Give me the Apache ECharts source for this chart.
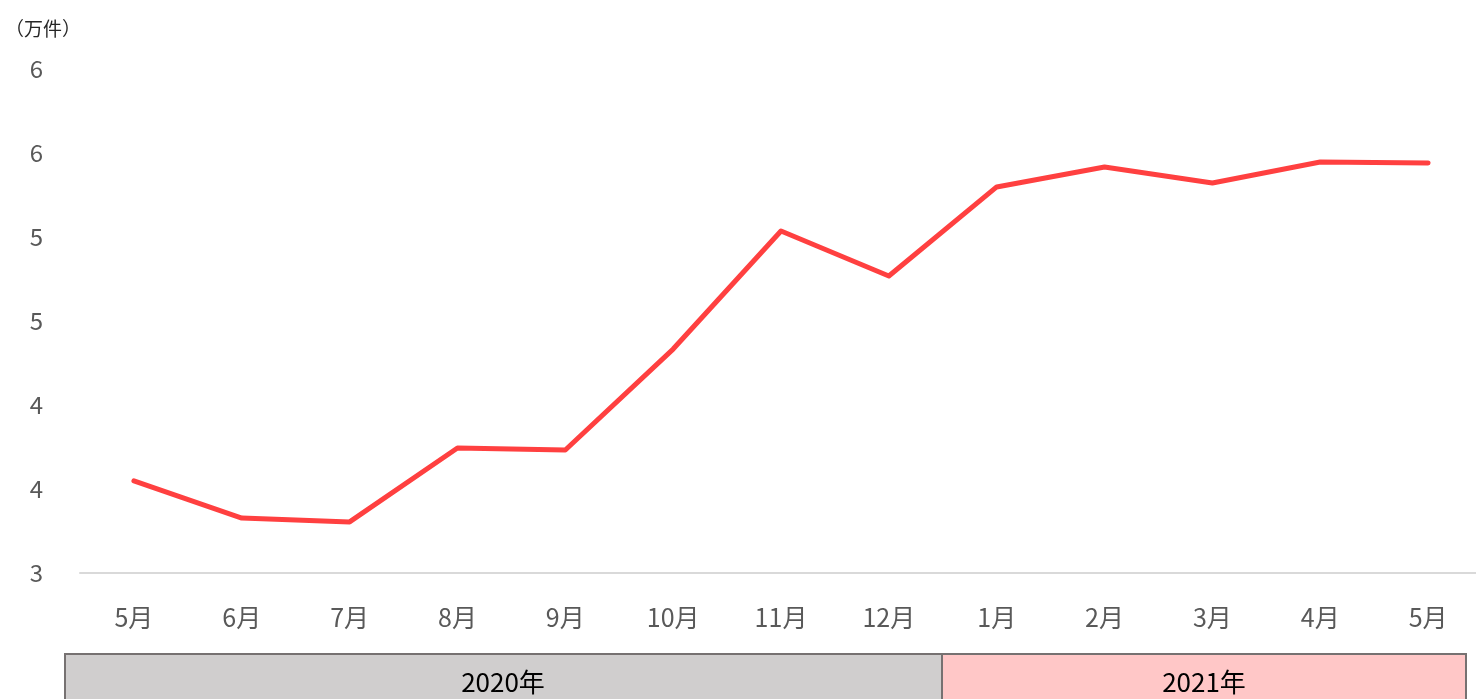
<!DOCTYPE html>
<html>
<head>
<meta charset="utf-8">
<script src="https://cdn.jsdelivr.net/npm/echarts@6/dist/echarts.min.js"></script>
<style>
html,body{margin:0;padding:0;background:#fff;}
#chart{width:1476px;height:699px;}
</style>
</head>
<body>
<div id="chart"></div>
<script>
const months = ['5月','6月','7月','8月','9月','10月','11月','12月','1月','2月','3月','4月','5月'];
const values = [3.548, 3.327, 3.304, 3.744, 3.732, 4.333, 5.036, 4.768, 5.298, 5.417, 5.321, 5.446, 5.440];
const yearLabels = ['2020年', '2021年'];
const unitLabel = '（万件）';

const FONT = '"Noto Sans CJK JP", "Noto Sans", sans-serif';
const chart = echarts.init(document.getElementById('chart'));
chart.setOption({
  animation: false,
  backgroundColor: '#ffffff',
  title: {
    text: unitLabel, left: 0, top: 14,
    textStyle: {fontFamily: FONT, fontSize: 19, fontWeight: 'normal', color: '#262626'}
  },
  grid: {left: 80, width: 1402, top: 69, bottom: 126, containLabel: false, outerBoundsMode: 'none'},
  xAxis: {
    type: 'category', data: months, boundaryGap: true,
    axisLine: {show: true, lineStyle: {color: '#d9d9d9', width: 2}},
    axisTick: {show: false},
    axisLabel: {fontFamily: FONT, fontSize: 25, color: '#595959', margin: 32}
  },
  yAxis: {
    type: 'value', min: 3, max: 6, interval: 0.5,
    axisLine: {show: false}, axisTick: {show: false},
    splitLine: {show: false},
    axisLabel: {fontFamily: FONT, fontSize: 24, color: '#595959', margin: 37,
      formatter: v => String(Math.round(v))}
  },
  series: [{
    type: 'line', data: values, showSymbol: false, symbol: 'none',
    lineStyle: {color: '#ff4040', width: 5, cap: 'round', join: 'round'}
  }],
  graphic: [
    {type: 'rect', shape: {x: 65, y: 654, width: 877, height: 60},
      style: {fill: '#d0cece', stroke: '#767171', lineWidth: 2}},
    {type: 'rect', shape: {x: 942, y: 654, width: 524, height: 60},
      style: {fill: '#ffc7c7', stroke: '#767171', lineWidth: 2}},
    {type: 'text', x: 503, y: 682,
      style: {text: yearLabels[0], font: '26px ' + FONT, fill: '#000', align: 'center', verticalAlign: 'middle'}},
    {type: 'text', x: 1204, y: 682,
      style: {text: yearLabels[1], font: '26px ' + FONT, fill: '#000', align: 'center', verticalAlign: 'middle'}}
  ]
});
</script>
</body>
</html>
